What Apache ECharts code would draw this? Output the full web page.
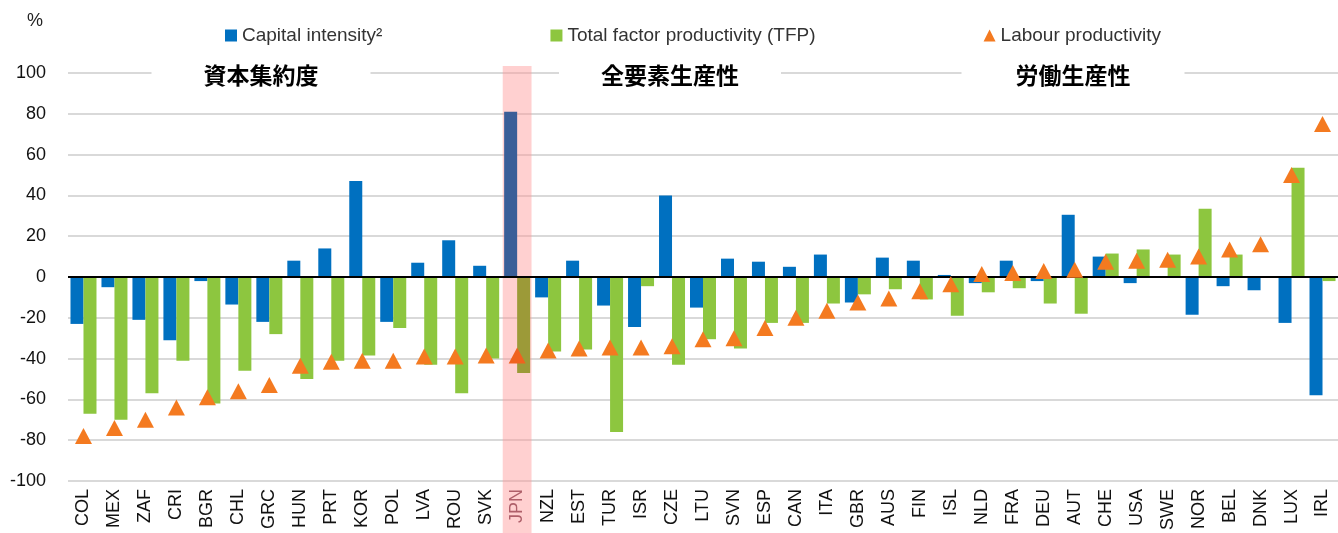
<!DOCTYPE html>
<html>
<head>
<meta charset="utf-8">
<script src="https://cdn.jsdelivr.net/npm/echarts@6/dist/echarts.min.js"></script>
<style>
  html, body { margin: 0; padding: 0; background: #fff; }
  #chart { width: 1338px; height: 533px; }
</style>
</head>
<body>
<div id="chart"></div>
<script>
const countries = ['COL', 'MEX', 'ZAF', 'CRI', 'BGR', 'CHL', 'GRC', 'HUN', 'PRT', 'KOR', 'POL', 'LVA', 'ROU', 'SVK', 'JPN',
  'NZL', 'EST', 'TUR', 'ISR', 'CZE', 'LTU', 'SVN', 'ESP', 'CAN', 'ITA', 'GBR', 'AUS', 'FIN', 'ISL', 'NLD',
  'FRA', 'DEU', 'AUT', 'CHE', 'USA', 'SWE', 'NOR', 'BEL', 'DNK', 'LUX', 'IRL'];

const capitalIntensity = [-23, -5, -21, -31, -2, -13.5, -22, 8, 14, 47, -22, 7, 18, 5.5, 81,
  -10, 8, -14, -24.5, 40, -15, 9, 7.5, 5, 11, -12.5, 9.5, 8, 1, -3,
  8, -2, 30.5, 10, -3, 0.5, -18.5, -4.5, -6.5, -22.5, -58];

const tfp = [-67, -70, -57, -41, -62, -46, -28, -50, -41, -38.5, -25, -43, -57, -40, -47,
  -36.5, -35.5, -76, -4.5, -43, -30.5, -35, -22.5, -22.5, -13, -8.5, -6, -11, -19, -7.5,
  -5.5, -13, -18, 11.5, 13.5, 11, 33.5, 11, 0.5, 53.5, -2];

const labourProductivity = [-78, -74, -70, -64, -59, -56, -53, -43.5, -41.5, -41, -41, -39, -39, -38.5, -38.5,
  -36, -35, -34.5, -34.5, -34, -30.5, -30, -25, -20, -16.5, -12.5, -10.5, -7, -3.5, 1.5,
  2, 3, 3.5, 7.5, 8, 8.5, 10, 13.5, 16, 50, 75];

const seriesNames = ['Capital intensity²', 'Total factor productivity (TFP)', 'Labour productivity'];
const annotations = ['資本集約度', '全要素生産性', '労働生産性'];
const highlight = 'JPN';

const BLUE = '#0070C0';
const GREEN = '#8DC63F';
const ORANGE = '#F47A20';

const chart = echarts.init(document.getElementById('chart'));

const blueData = capitalIntensity.map((v, i) =>
  countries[i] === highlight ? { value: v, itemStyle: { color: '#3A5E98' } } : v);
const greenData = tfp.map((v, i) =>
  countries[i] === highlight ? { value: v, itemStyle: { color: '#9C9A38' } } : v);
const orangeData = labourProductivity.map((v, i) =>
  countries[i] === highlight ? { value: v, itemStyle: { color: '#F0621E' } } : v);

const textFont = 'Liberation Sans, Arial, sans-serif';
const cjkFont = '"Noto Sans CJK JP", sans-serif';

const options = {
  animation: false,
  backgroundColor: '#fff',
  textStyle: { fontFamily: textFont },
  grid: { left: 68, right: 0, top: 73, bottom: 46 },
  legend: {
    left: 220,
    top: 21,
    itemGap: 168,
    itemWidth: 12,
    itemHeight: 12,
    textStyle: { fontSize: 19, color: '#333', fontFamily: textFont },
    data: [
      { name: seriesNames[0], icon: 'rect' },
      { name: seriesNames[1], icon: 'rect' },
      { name: seriesNames[2], icon: 'triangle' },
    ],
  },
  xAxis: {
    type: 'category',
    data: countries,
    axisLine: { show: false, onZero: false },
    axisTick: { show: false },
    axisLabel: {
      rotate: 90,
      margin: 8,
      fontSize: 18,
      color: '#111',
      fontFamily: textFont,
      interval: 0,
      formatter: v => (v === highlight ? '{hl|' + v + '}' : v),
      rich: { hl: { color: '#6E3446', fontSize: 18, fontFamily: textFont } },
    },
  },
  yAxis: {
    type: 'value',
    min: -100,
    max: 100,
    interval: 20,
    axisLine: { show: false },
    axisTick: { show: false },
    axisLabel: { fontSize: 18, color: '#111', margin: 22, fontFamily: textFont },
    splitLine: { lineStyle: { color: '#D9D9D9', width: 2 } },
  },
  graphic: [
    { type: 'text', left: 27, top: 12, style: { text: '%', font: '18px ' + textFont, fill: '#222' } },
    {
      type: 'text', x: 261, y: 75, z: 10,
      style: { text: annotations[0], font: 'bold 23px ' + cjkFont, fill: '#000', align: 'center', verticalAlign: 'middle', backgroundColor: '#fff', padding: [2, 52] },
    },
    {
      type: 'text', x: 670, y: 75, z: 10,
      style: { text: annotations[1], font: 'bold 23px ' + cjkFont, fill: '#000', align: 'center', verticalAlign: 'middle', backgroundColor: '#fff', padding: [2, 42] },
    },
    {
      type: 'text', x: 1073, y: 75, z: 10,
      style: { text: annotations[2], font: 'bold 23px ' + cjkFont, fill: '#000', align: 'center', verticalAlign: 'middle', backgroundColor: '#fff', padding: [2, 54] },
    },
  ],
  series: [
    {
      type: 'custom',
      silent: true,
      clip: false,
      z: 1,
      data: [[highlight]],
      renderItem: (params, api) => {
        const cs = params.coordSys;
        const cx = api.coord([api.value(0), 0])[0];
        const w = api.size([1, 0])[0] * 0.93;
        return {
          type: 'rect',
          shape: { x: cx - w / 2, y: cs.y - 7, width: w, height: cs.height + 7 + 60 },
          style: { fill: 'rgba(255,150,150,0.45)' },
        };
      },
    },
    {
      name: seriesNames[0],
      type: 'bar',
      data: blueData,
      barWidth: 13,
      barGap: '0%',
      itemStyle: { color: BLUE },
      z: 3,
      markLine: {
        silent: true,
        symbol: 'none',
        label: { show: false },
        lineStyle: { color: '#000', width: 2, type: 'solid' },
        data: [{ yAxis: 0 }],
      },
    },
    {
      name: seriesNames[1],
      type: 'bar',
      data: greenData,
      barWidth: 13,
      barGap: '0%',
      itemStyle: { color: GREEN },
      z: 3,
    },
    {
      name: seriesNames[2],
      type: 'scatter',
      data: orangeData,
      symbol: 'triangle',
      symbolSize: [17, 16],
      itemStyle: { color: ORANGE, opacity: 1 },
      z: 5,
    },
  ],
};

chart.setOption(options);
</script>
</body>
</html>
